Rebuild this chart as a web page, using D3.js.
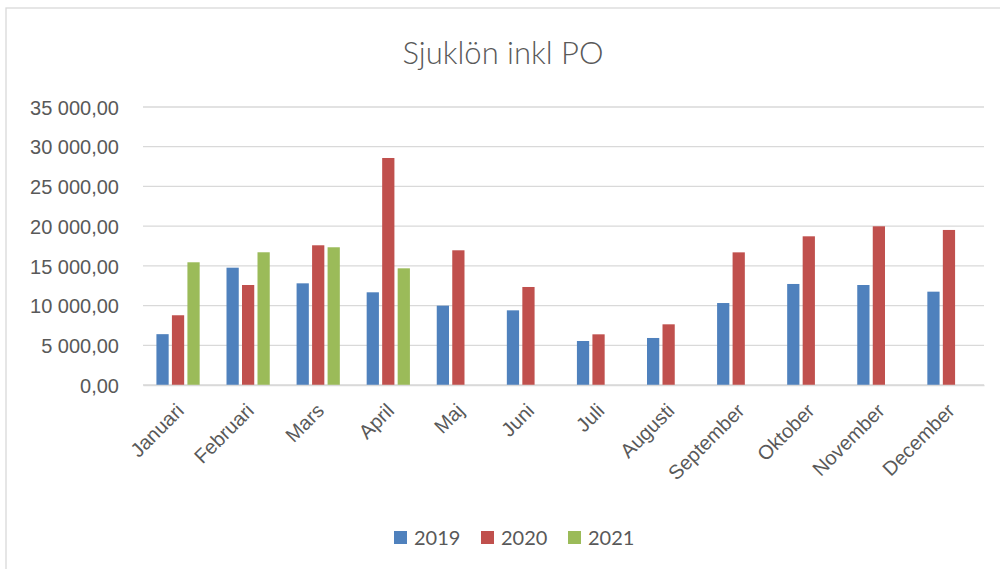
<!DOCTYPE html>
<html>
<head>
<meta charset="utf-8">
<script src="https://cdn.jsdelivr.net/npm/d3@7"></script>
<style>
  html, body { margin: 0; padding: 0; background: #fff; }
  svg { display: block; font-family: Lato, "Open Sans", sans-serif; }
  .grid line { stroke: #d9d9d9; stroke-width: 1.3; }
  .axis text { fill: #595959; }
</style>
</head>
<body>
<div id="chart"></div>
<script>
// Data
const months = ["Januari", "Februari", "Mars", "April", "Maj", "Juni",
  "Juli", "Augusti", "September", "Oktober", "November", "December"];
const seriesNames = ["2019", "2020", "2021"];
const values2019 = [6400, 14770, 12800, 11670, 9990, 9400, 5540, 5920, 10320, 12720, 12590, 11750];
const values2020 = [8780, 12590, 17590, 28580, 16960, 12340, 6380, 7640, 16700, 18720, 19980, 19520];
const values2021 = [15450, 16710, 17340, 14690, null, null, null, null, null, null, null, null];
const yTicks = [0, 5000, 10000, 15000, 20000, 25000, 30000, 35000];
const colors = ["#4f81bd", "#c0504d", "#9bbb59"];

// Layout
const W = 1000, H = 569;
const plot = {left: 143, right: 984, top: 107, bottom: 385};

const svg = d3.select("#chart").append("svg")
  .attr("width", W)
  .attr("height", H);

// chart area border (only left/top visible in the crop)
svg.append("rect")
  .attr("x", 6).attr("y", 8)
  .attr("width", W + 10).attr("height", H + 10)
  .attr("fill", "#fff")
  .attr("stroke", "#d9d9d9")
  .attr("stroke-width", 1.3);

svg.append("text")
  .attr("x", 503)
  .attr("y", 64)
  .attr("text-anchor", "middle")
  .attr("fill", "#595959")
  .style("font-size", "31px")
  .style("font-weight", 300)
  .text("Sjuklön inkl PO");

// Scales
const x0 = d3.scaleBand()
  .domain(months)
  .range([plot.left, plot.right])
  .padding(0);

const x1 = d3.scaleBand()
  .domain(seriesNames)
  .range([0, x0.bandwidth()])
  .paddingInner(0.21)
  .paddingOuter(0.866);

const y = d3.scaleLinear()
  .domain([0, 35000])
  .range([plot.bottom, plot.top]);

const sv = d3.formatLocale({decimal: ",", thousands: " ", grouping: [3], currency: ["", ""]});
const fmt = sv.format(",.2f");

// Gridlines
svg.append("g")
  .attr("class", "grid")
  .selectAll("line")
  .data(yTicks)
  .join("line")
    .attr("x1", plot.left)
    .attr("x2", plot.right)
    .attr("y1", d => y(d))
    .attr("y2", d => y(d));

// Y axis
const yAxis = svg.append("g")
  .attr("class", "axis")
  .attr("transform", `translate(${plot.left - 24}, 0)`)
  .call(d3.axisLeft(y).tickValues(yTicks).tickFormat(fmt).tickSize(0).tickPadding(0));
yAxis.select(".domain").remove();
yAxis.selectAll("text")
  .style("font-size", "20px")
  .attr("dy", "0.36em");

// Bars
const rows = months.map((m, i) => ({
  month: m,
  vals: [values2019[i], values2020[i], values2021[i]]
}));

const groups = svg.append("g")
  .selectAll("g")
  .data(rows)
  .join("g")
    .attr("transform", d => `translate(${x0(d.month)}, 0)`);

groups.selectAll("rect")
  .data(d => d.vals.map((v, j) => ({key: seriesNames[j], value: v, j: j})).filter(e => e.value != null))
  .join("rect")
    .attr("x", d => x1(d.key))
    .attr("width", x1.bandwidth())
    .attr("y", d => y(d.value))
    .attr("height", d => y(0) - y(d.value))
    .attr("fill", d => colors[d.j]);

// X axis
const xAxis = svg.append("g")
  .attr("class", "axis")
  .attr("transform", `translate(0, ${plot.bottom})`)
  .call(d3.axisBottom(x0).tickSize(0).tickPadding(0));
xAxis.select(".domain")
  .attr("stroke", "#d9d9d9")
  .attr("stroke-width", 1.3);
xAxis.selectAll("text")
  .style("font-size", "20px")
  .attr("text-anchor", "end")
  .attr("dy", null)
  .attr("y", null)
  .attr("transform", "translate(7, 27) rotate(-45)");

// Legend
const legend = svg.append("g")
  .selectAll("g")
  .data(seriesNames)
  .join("g")
    .attr("transform", (d, i) => `translate(${394 + 87 * i}, 531)`);

legend.append("rect")
  .attr("width", 13)
  .attr("height", 13)
  .attr("fill", (d, i) => colors[i]);

legend.append("text")
  .attr("x", 20)
  .attr("y", 13.5)
  .attr("fill", "#595959")
  .style("font-size", "20px")
  .text(d => d);
</script>
</body>
</html>
